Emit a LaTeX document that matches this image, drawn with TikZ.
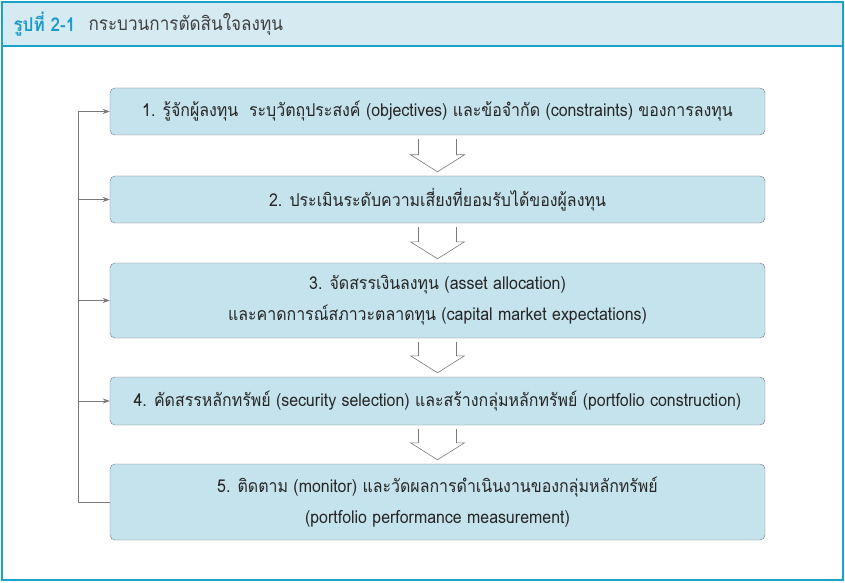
\documentclass[tikz,border=0pt]{standalone}
\usepackage{fontspec}
\setmainfont{Loma}[Script=Thai,FakeStretch=0.9]
\usetikzlibrary{arrows.meta}
\definecolor{framecyan}{HTML}{1AA3C8}
\definecolor{headfill}{HTML}{D6EAF2}
\definecolor{boxfill}{HTML}{C4E3EC}
\definecolor{titleblue}{HTML}{1B9BCB}
\definecolor{linegray}{HTML}{7A7A7A}
\newcommand{\flowarrow}[2]{%
  \draw[hollow] ([xshift=-19pt,yshift=-4pt]#1.south) -- ([xshift=-19pt,yshift=21pt]#2.north)
    -- ([xshift=-27pt,yshift=21pt]#2.north) -- ([yshift=4pt]#2.north)
    -- ([xshift=27pt,yshift=21pt]#2.north) -- ([xshift=19pt,yshift=21pt]#2.north)
    -- ([xshift=19pt,yshift=-4pt]#1.south);}
\begin{document}
\begin{tikzpicture}[x=1pt,y=1pt,
    stepbox/.style={rectangle,rounded corners=5pt,draw=linegray,fill=boxfill,
      minimum width=655pt,align=center,font=\fontsize{17.7}{31}\selectfont,text=black!85},
    hollow/.style={draw=linegray,fill=white,line width=0.6pt},
    feed/.style={draw=linegray,line width=0.7pt,-{Stealth[length=7pt,width=5pt]}}]
\useasboundingbox (0,0) rectangle (845,582);
% frame and heading
\path[fill=headfill] (2,536) rectangle (843,580);
\draw[framecyan,line width=1.2pt] (2,536) -- (843,536);
\draw[framecyan,line width=1.6pt] (2,2) rectangle (843,580);
\node[anchor=west,font=\fontsize{19}{22}\selectfont\bfseries,text=titleblue] (tnum) at (10,558) {รูปที่ 2-1};
\node[anchor=west,font=\fontsize{19}{22}\selectfont,text=black!75] (tname) at (85,558) {กระบวนการตัดสินใจลงทุน};

\node[stepbox,minimum height=47pt] (s1) at (437.5,470.5) {1. รู้จักผู้ลงทุน\ \ ระบุวัตถุประสงค์ (objectives) และข้อจำกัด (constraints) ของการลงทุน};
\node[stepbox,minimum height=47pt] (s2) at (437.5,382.5) {2. ประเมินระดับความเสี่ยงที่ยอมรับได้ของผู้ลงทุน};
\node[stepbox,minimum height=75pt] (s3) at (437.5,281.5) {3. จัดสรรเงินลงทุน (asset allocation)\\และคาดการณ์สภาวะตลาดทุน (capital market expectations)};
\node[stepbox,minimum height=48pt] (s4) at (437.5,181) {4. คัดสรรหลักทรัพย์ (security selection) และสร้างกลุ่มหลักทรัพย์ (portfolio construction)};
\node[stepbox,minimum height=76pt] (s5) at (437.5,80) {5. ติดตาม (monitor) และวัดผลการดำเนินงานของกลุ่มหลักทรัพย์\\(portfolio performance measurement)};

\flowarrow{s1}{s2}
\flowarrow{s2}{s3}
\flowarrow{s3}{s4}
\flowarrow{s4}{s5}

% feedback loop
\coordinate (f1) at (78,470.5);
\draw[feed] (s5.west) -| (f1) -- (s1.west);
\foreach \i in {2,3,4}
  \draw[feed] (f1 |- s\i.west) -- (s\i.west);
\end{tikzpicture}
\end{document}
